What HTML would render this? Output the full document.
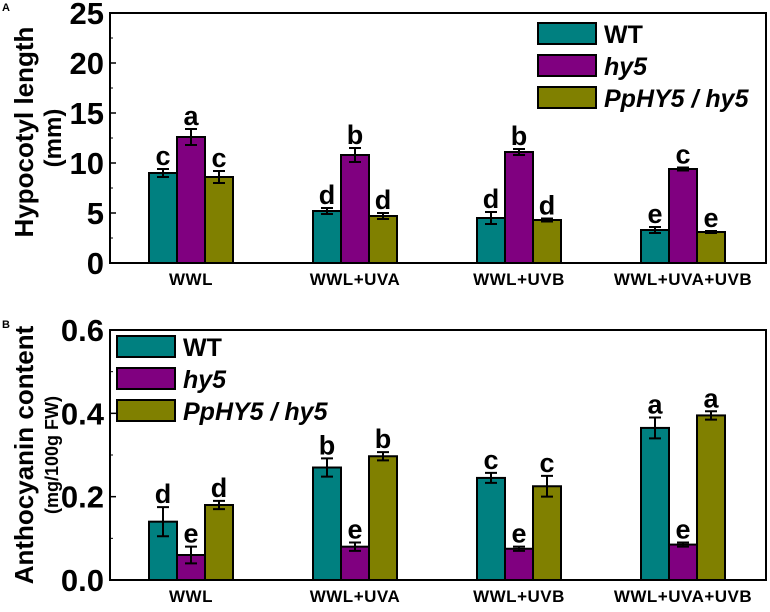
<!DOCTYPE html>
<html><head><meta charset="utf-8"><style>
body{margin:0;background:#fff;}
svg text{font-family:"Liberation Sans",Arial,sans-serif;font-weight:bold;}
</style></head><body>
<svg id="c" width="770" height="607" xmlns="http://www.w3.org/2000/svg"></svg>
<script>
const categories=["WWL","WWL+UVA","WWL+UVB","WWL+UVA+UVB"];
const seriesNames=["WT","hy5","PpHY5 / hy5"];
const colors=["#008080","#800080","#808000"];
const hypWT=[9.0,5.2,4.5,3.3];
const hypHy5=[12.6,10.8,11.1,9.4];
const hypPp=[8.6,4.7,4.3,3.1];
const hypErrWT=[0.4,0.3,0.6,0.3];
const hypErrHy5=[0.8,0.7,0.3,0.15];
const hypErrPp=[0.6,0.3,0.15,0.1];
const hypLetters=[["c","d","d","e"],["a","b","b","c"],["c","d","d","e"]];
const hypTicks=[0,5,10,15,20,25];
const antWT=[0.14,0.27,0.245,0.365];
const antHy5=[0.06,0.08,0.075,0.085];
const antPp=[0.18,0.297,0.225,0.395];
const antErrWT=[0.035,0.022,0.012,0.025];
const antErrHy5=[0.02,0.01,0.005,0.005];
const antErrPp=[0.01,0.01,0.025,0.01];
const antLetters=[["d","b","c","a"],["e","e","e","e"],["d","b","c","a"]];
const antTicks=["0.0","0.2","0.4","0.6"];

const svg=document.getElementById('c');
const NS="http://www.w3.org/2000/svg";
function mk(tag,attrs,parent){const e=document.createElementNS(NS,tag);for(const k in attrs)e.setAttribute(k,attrs[k]);(parent||svg).appendChild(e);return e;}

function panel(o){
  const g=mk('g',{});
  
  
  const L=110,R=766,T=o.top,B=o.bottom;
  const y=v=>B-(v/o.max)*(B-T);
  const cx=i=>191+i*164;
  const bw=28;
  o.ticks.forEach((t,i)=>{
    const v=parseFloat(t), yy=y(v);
    const ln=mk('line',{x1:L,x2:L+6,y1:yy,y2:yy,stroke:'#000','stroke-width':1.5},g);
    
    
    const tx=mk('text',{x:104,y:yy+11,'text-anchor':'end','font-size':31},g);
    tx.textContent=t;
    
    
    if(i<o.ticks.length-1){const ym=y(v+o.step/2);mk('line',{x1:L,x2:L+3,y1:ym,y2:ym,stroke:'#000','stroke-width':1},g);}
  });
  const vals=[o.a,o.b,o.c], errs=[o.ea,o.eb,o.ec];
  categories.forEach((c,i)=>{
    for(let s=0;s<3;s++){
      const v=vals[s][i], e=errs[s][i], x=cx(i)+(s-1.5)*bw;
      const r=mk('rect',{x:x,y:y(v),width:bw,height:B-y(v),fill:colors[s],stroke:'#000','stroke-width':2},g);
      
      
      const mx=x+bw/2;
      const eb=mk('path',{d:`M${mx},${y(v+e)}V${y(v-e)}M${mx-6},${y(v+e)}H${mx+6}M${mx-6},${y(v-e)}H${mx+6}`,stroke:'#000','stroke-width':2,fill:'none'},g);
      
      
      const lt=mk('text',{x:mx,y:y(v+e)-4,'text-anchor':'middle','font-size':27},g);
      lt.textContent=o.letters[s][i];
      
      
    }
    const cl=mk('text',{x:cx(i),y:B+22,'text-anchor':'middle','font-size':17,'letter-spacing':0.5},g);
    cl.textContent=c;
    
    
  });
  const fr=mk('rect',{x:L,y:T,width:R-L,height:B-T,fill:'none',stroke:'#000','stroke-width':2},g);
  
  
  seriesNames.forEach((n,s)=>{
    const ly=o.legY+s*32;
    const sw=mk('rect',{x:o.legX,y:ly,width:58,height:21,fill:colors[s],stroke:'#000','stroke-width':2},g);
    
    
    const t=mk('text',{x:o.legX+66,y:ly+20,'font-size':25,'font-style':s?'italic':'normal'},g);
    t.textContent=n;
    
    
  });
  const cy=(T+B)/2+o.t1dy;
  const t1=mk('text',{x:0,y:0,'text-anchor':'middle','font-size':o.t1s,transform:`translate(33,${cy}) rotate(-90)`},g);
  t1.textContent=o.t1;
  
  
  const t2=mk('text',{x:0,y:0,'text-anchor':'middle','font-size':o.t2s,transform:`translate(${o.t2x},${(T+B)/2}) rotate(-90)`},g);
  t2.textContent=o.t2;
  
  
  const pl=mk('text',{x:2,y:o.top-2,'font-size':11},g);
  pl.textContent=o.label;
  
  
}
panel({name:'panel-a-hypocotyl',label:'A',top:13,bottom:263,max:25,step:5,ticks:hypTicks.map(String),a:hypWT,b:hypHy5,c:hypPp,ea:hypErrWT,eb:hypErrHy5,ec:hypErrPp,letters:hypLetters,legX:538,legY:23,t1:'Hypocotyl length',t1s:26,t1dy:-6,t2:'(mm)',t2s:24,t2x:61});
panel({name:'panel-b-anthocyanin',label:'B',top:330,bottom:580,max:0.6,step:0.2,ticks:antTicks,a:antWT,b:antHy5,c:antPp,ea:antErrWT,eb:antErrHy5,ec:antErrPp,letters:antLetters,legX:117,legY:336,t1:'Anthocyanin content',t1s:26,t1dy:0,t2:'(mg/100g FW)',t2s:18,t2x:58});
</script>
</body></html>
